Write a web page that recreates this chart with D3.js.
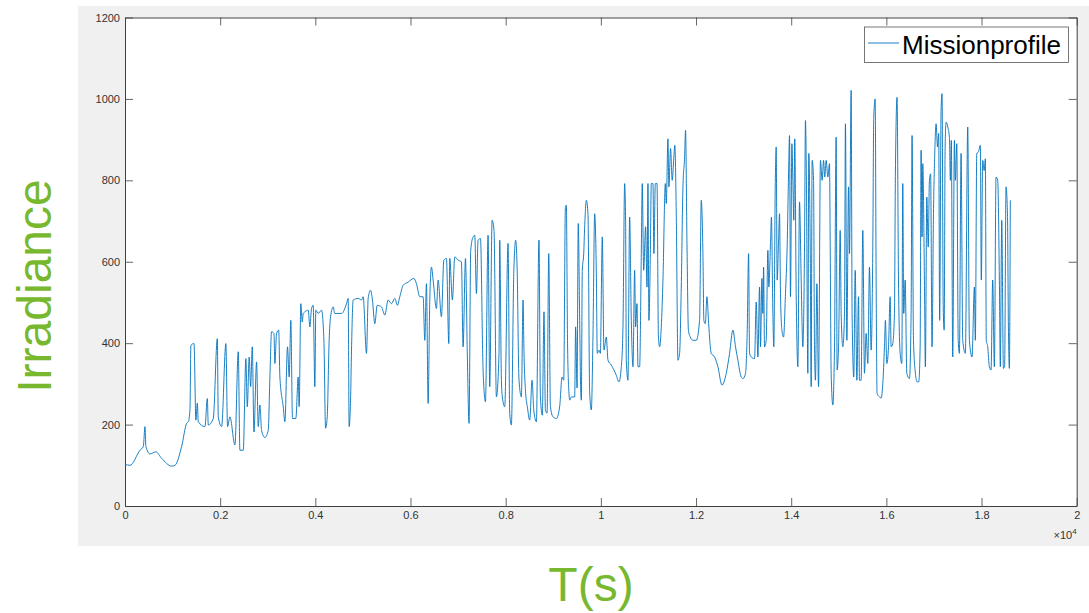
<!DOCTYPE html>
<html>
<head>
<meta charset="utf-8">
<script src="https://cdn.jsdelivr.net/npm/d3@7"></script>
<style>
  body { margin: 0; background: #fff; }
  svg { display: block; font-family: "Liberation Sans", Arial, sans-serif; }
</style>
</head>
<body>
<div id="chart"></div>
<script>
// mission profile: [time (s), irradiance]
const profile = [
  [0,102],[105,100],[315,137],[385,146],[420,195],[440,146],[525,128],[650,133],[770,117],[980,98],
  [1050,100],[1190,146],[1295,203],[1330,207],[1365,236],[1385,395],[1450,399],[1490,211],[1520,253],[1540,207],
  [1680,195],[1730,264],[1750,199],[1855,215],[1940,411],[1960,219],[2030,195],[2120,399],[2155,195],[2205,219],
  [2310,150],[2380,379],[2415,137],[2485,137],[2540,362],[2570,244],[2610,366],[2640,293],[2675,391],[2710,182],
  [2765,354],[2800,195],[2835,248],[2870,186],[2940,168],[3010,186],[3045,317],[3080,428],[3130,424],[3150,350],
  [3185,424],[3230,432],[3255,317],[3325,244],[3360,207],[3415,391],[3450,317],[3485,456],[3520,215],[3590,215],
  [3640,317],[3660,244],[3695,497],[3725,452],[3745,473],[3780,477],[3850,481],[3885,440],[3920,485],[3955,493],
  [3990,293],[4010,481],[4060,473],[4130,481],[4180,407],[4215,191],[4250,219],[4290,407],[4320,465],[4375,489],
  [4410,473],[4550,473],[4655,497],[4690,510],[4710,195],[4740,260],[4760,383],[4795,506],[4900,510],[4970,506],
  [5005,514],[5075,375],[5110,510],[5160,530],[5200,506],[5250,448],[5300,493],[5390,489],[5460,469],[5530,506],
  [5600,497],[5670,510],[5725,493],[5775,514],[5845,542],[5950,550],[6070,559],[6125,546],[6195,514],[6265,514],
  [6300,407],[6335,546],[6370,252],[6405,506],[6440,587],[6475,555],[6545,485],[6580,555],[6650,465],[6700,604],
  [6755,608],[6805,399],[6825,608],[6880,506],[6930,612],[7000,604],[7070,600],[7105,391],[7155,608],[7195,366],
  [7230,203],[7265,628],[7315,661],[7350,665],[7385,522],[7420,653],[7470,657],[7525,334],[7575,256],[7630,665],
  [7665,293],[7715,702],[7755,677],[7805,268],[7860,375],[7875,653],[7910,309],[7930,268],[7980,244],[8050,645],
  [8085,228],[8120,199],[8170,571],[8210,653],[8240,587],[8280,309],[8330,268],[8365,506],[8385,375],[8420,277],
  [8455,244],[8505,211],[8555,309],[8590,236],[8645,207],[8700,653],[8730,268],[8770,223],[8805,477],[8835,236],
  [8870,228],[8905,620],[8940,244],[8995,219],[9065,215],[9135,245],[9185,317],[9220,309],[9255,735],[9275,739],
  [9300,400],[9330,277],[9345,260],[9380,268],[9415,268],[9450,268],[9470,440],[9500,290],[9525,694],[9555,456],
  [9575,293],[9590,260],[9610,579],[9640,620],[9660,686],[9695,751],[9730,716],[9765,277],[9800,236],[9835,420],
  [9870,718],[9905,571],[9925,375],[9960,383],[9990,375],[10030,661],[10065,383],[10115,415],[10150,358],[10220,346],
  [10325,321],[10380,305],[10430,342],[10465,440],[10500,792],[10520,702],[10535,358],[10570,309],[10605,710],[10640,456],
  [10675,342],[10710,579],[10730,440],[10760,497],[10780,342],[10815,342],[10850,620],[10870,792],[10900,579],[10940,686],
  [10970,538],[10990,792],[11010,456],[11040,620],[11060,792],[11095,792],[11115,620],[11145,792],[11180,792],[11210,415],
  [11235,391],[11270,440],[11305,555],[11355,792],[11375,743],[11410,902],[11430,784],[11465,878],[11500,800],[11530,849],
  [11555,886],[11585,718],[11620,358],[11655,375],[11690,538],[11725,784],[11760,857],[11780,923],[11810,645],[11840,432],
  [11880,415],[11935,407],[12005,407],[12075,456],[12110,751],[12145,620],[12165,456],[12195,448],[12230,514],[12265,448],
  [12320,375],[12390,366],[12460,342],[12545,297],[12635,326],[12705,375],[12775,432],[12830,391],[12880,358],[12950,317],
  [12990,313],[13040,326],[13075,424],[13105,620],[13125,375],[13160,366],[13230,362],[13265,501],[13300,366],[13335,538],
  [13355,391],[13385,559],[13405,473],[13420,587],[13440,391],[13475,407],[13510,628],[13530,538],[13565,645],[13585,710],
  [13615,473],[13635,391],[13665,784],[13685,882],[13705,555],[13735,653],[13755,718],[13775,522],[13805,432],[13840,415],
  [13880,522],[13915,636],[13945,816],[13965,910],[13985,514],[14015,890],[14035,800],[14055,702],[14075,902],[14105,522],
  [14140,342],[14175,747],[14210,555],[14245,391],[14280,636],[14300,947],[14320,800],[14350,326],[14370,866],[14400,636],
  [14420,293],[14440,849],[14470,800],[14490,391],[14510,309],[14540,546],[14575,293],[14615,849],[14650,800],[14680,849],
  [14705,808],[14735,849],[14770,808],[14805,841],[14820,636],[14840,326],[14875,248],[14910,391],[14945,906],[14965,334],
  [14995,391],[15030,677],[15050,473],[15085,391],[15120,473],[15140,939],[15170,407],[15205,784],[15225,620],[15260,1021],
  [15280,473],[15315,317],[15345,579],[15380,309],[15415,514],[15435,309],[15470,309],[15505,677],[15540,326],[15575,424],
  [15610,350],[15645,587],[15680,383],[15715,636],[15735,955],[15765,1000],[15785,555],[15805,277],[15855,268],[15890,265],
  [15925,300],[15960,391],[15980,456],[16010,350],[16045,391],[16080,514],[16100,391],[16135,399],[16170,473],[16190,816],
  [16225,1004],[16255,555],[16290,375],[16325,350],[16345,792],[16365,473],[16395,555],[16430,326],[16485,313],[16520,473],
  [16540,910],[16570,407],[16610,326],[16645,305],[16680,305],[16710,391],[16730,874],[16750,661],[16765,841],[16800,555],
  [16820,342],[16850,759],[16880,636],[16905,800],[16930,816],[16960,391],[16990,718],[17015,857],[17045,939],[17075,882],
  [17100,915],[17120,456],[17150,972],[17170,1013],[17195,489],[17215,432],[17235,882],[17255,943],[17290,931],[17325,906],
  [17345,800],[17365,898],[17395,366],[17430,898],[17450,800],[17480,890],[17510,407],[17535,375],[17570,866],[17605,407],
  [17660,375],[17710,931],[17745,407],[17800,366],[17850,538],[17870,407],[17900,866],[17935,870],[17975,886],[17995,555],
  [18025,849],[18055,824],[18080,853],[18100,407],[18130,391],[18165,342],[18200,334],[18235,555],[18270,342],[18305,808],
  [18340,800],[18375,555],[18395,342],[18425,702],[18460,338],[18485,342],[18515,784],[18545,718],[18565,440],[18585,338],
  [18605,751]
];

const seriesName = "Missionprofile";
const xTicks = [0, 2000, 4000, 6000, 8000, 10000, 12000, 14000, 16000, 18000, 20000];
const yTicks = [0, 200, 400, 600, 800, 1000, 1200];
const xLabel = "T(s)";
const yLabel = "Irradiance";

const W = 1089, H = 613;
const m = { l: 125, r: 1076.7, t: 17.5, b: 506 };
const green = "#78b82f";
const axisColor = "#404040";

const svg = d3.select("#chart").append("svg")
    .attr("width", W).attr("height", H);

// grey figure background
svg.append("rect")
    .attr("x", 78).attr("y", 6)
    .attr("width", W - 78).attr("height", 540)
    .attr("fill", "#f0f0f0");

svg.append("rect")
    .attr("x", m.l).attr("y", m.t)
    .attr("width", m.r - m.l).attr("height", m.b - m.t)
    .attr("fill", "#fff");

const x = d3.scaleLinear().domain([0, 20000]).range([m.l, m.r]);
const y = d3.scaleLinear().domain([0, 1200]).range([m.b, m.t]);

const fmtX = d => String(+(d / 1e4).toFixed(1));

// axes, MATLAB style: ticks inward, box on
const xAxis = svg.append("g")
    .attr("transform", "translate(0," + m.b + ")")
    .call(d3.axisBottom(x).tickValues(xTicks).tickFormat(fmtX).tickSizeInner(-8).tickSizeOuter(0).tickPadding(6));
const xTop = svg.append("g")
    .attr("transform", "translate(0," + m.t + ")")
    .call(d3.axisTop(x).tickValues(xTicks).tickFormat("").tickSizeInner(-8).tickSizeOuter(0));
const yAxis = svg.append("g")
    .attr("transform", "translate(" + m.l + ",0)")
    .call(d3.axisLeft(y).tickValues(yTicks).tickFormat(d3.format("d")).tickSizeInner(-8).tickSizeOuter(0).tickPadding(5));
const yRight = svg.append("g")
    .attr("transform", "translate(" + m.r + ",0)")
    .call(d3.axisRight(y).tickValues(yTicks).tickFormat("").tickSizeInner(-8).tickSizeOuter(0));

[xAxis, xTop, yAxis, yRight].forEach(function(g){
    g.selectAll("path.domain").attr("stroke", axisColor).attr("stroke-width", 1);
    g.selectAll(".tick line").attr("stroke", axisColor).attr("stroke-width", 0.8);
    g.selectAll(".tick text").attr("fill", "#333").style("font-size", "11px")
        .style("font-family", "'Liberation Sans', Arial, sans-serif");
});
xAxis.selectAll(".tick text").attr("y", 3).attr("dy", "0.9em");

// exponent label
const expo = svg.append("text")
    .attr("x", m.r).attr("y", 539)
    .attr("text-anchor", "end")
    .attr("fill", "#333")
    .style("font-size", "11px");
expo.append("tspan").text("\u00d710");
expo.append("tspan").attr("dy", -5).style("font-size", "8px").text("4");

// data line
const line = d3.line().x(d => x(d[0])).y(d => y(d[1])).curve(d3.curveMonotoneX);
svg.append("path")
    .datum(profile)
    .attr("d", line)
    .attr("fill", "none")
    .attr("stroke", "#0072bd")
    .attr("stroke-width", 0.9)
    .attr("stroke-linejoin", "round");

// legend
const lg = svg.append("g");
lg.append("rect")
    .attr("x", 864.5).attr("y", 27)
    .attr("width", 204).attr("height", 35.5)
    .attr("fill", "#fff").attr("stroke", "#555").attr("stroke-width", 0.8);
lg.append("line")
    .attr("x1", 868).attr("x2", 899).attr("y1", 43).attr("y2", 43)
    .attr("stroke", "#0072bd").attr("stroke-width", 0.9);
lg.append("text")
    .attr("x", 902).attr("y", 54)
    .attr("fill", "#000")
    .style("font-size", "26px")
    .text(seriesName);

// axis titles
svg.append("text")
    .attr("transform", "translate(51,286) rotate(-90)")
    .attr("text-anchor", "middle")
    .attr("fill", green)
    .style("font-size", "48px")
    .text(yLabel);
svg.append("text")
    .attr("x", 591).attr("y", 601)
    .attr("text-anchor", "middle")
    .attr("fill", green)
    .style("font-size", "48px")
    .text(xLabel);
</script>
</body>
</html>
